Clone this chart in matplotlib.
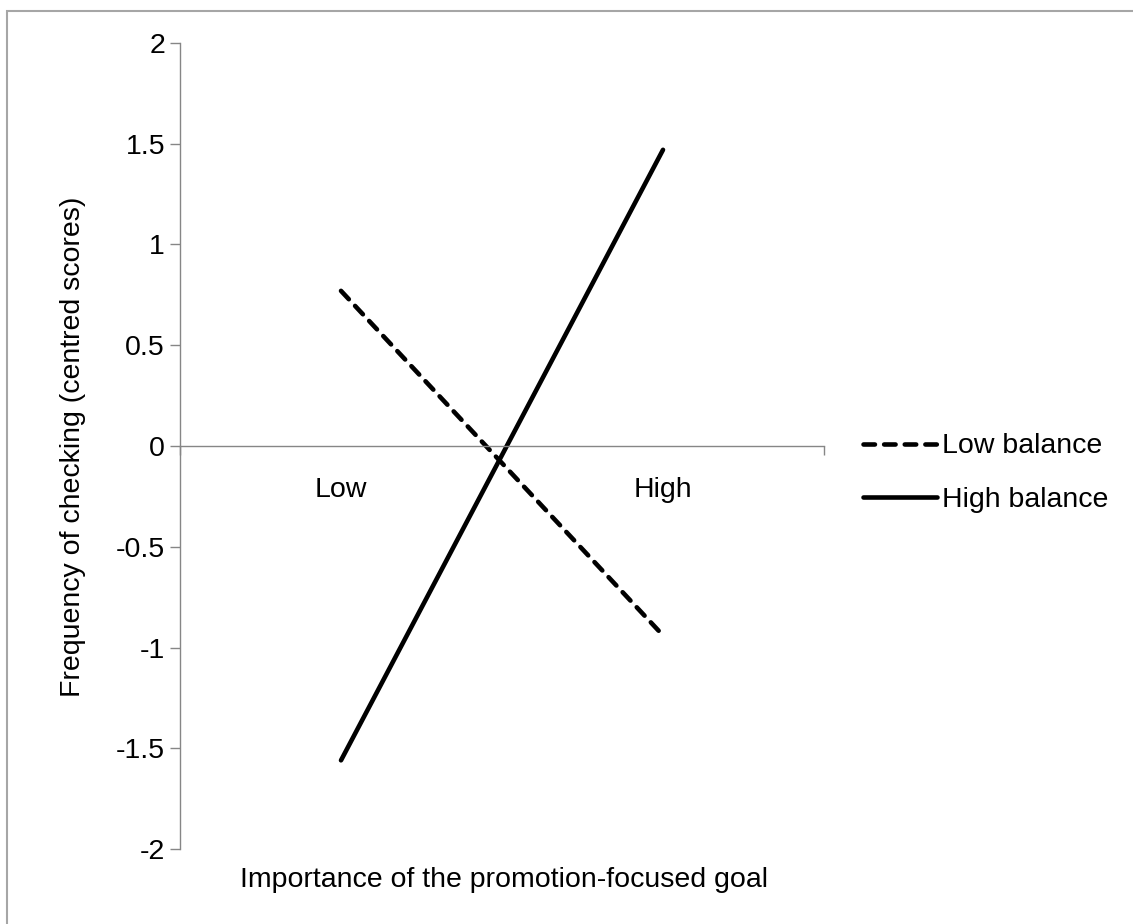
import numpy as np
import matplotlib
matplotlib.use('Agg')
import matplotlib.pyplot as plt
from matplotlib.patches import Rectangle

categories = ['Low', 'High']
low_balance = [0.77, -0.94]
high_balance = [-1.56, 1.47]
yticks = [-2, -1.5, -1, -0.5, 0, 0.5, 1, 1.5, 2]
ytick_labels = ['-2', '-1.5', '-1', '-0.5', '0', '0.5', '1', '1.5', '2']

plt.rcParams['font.family'] = ['Liberation Sans', 'DejaVu Sans']
fs = 20.5
grey = '#868686'

W, H = 1133, 924
fig = plt.figure(figsize=(W/100, H/100), dpi=100)
ax = fig.add_axes([180/W, 1-849/H, (824-180)/W, (849-43)/H])

x = np.arange(len(categories)) + 0.5
ax.plot(x, low_balance, color='k', lw=3.3, dashes=(2.5, 2.0),
        dash_capstyle='round', solid_capstyle='round', label='Low balance')
ax.plot(x, high_balance, color='k', lw=3.3, solid_capstyle='round',
        label='High balance')

ax.set_xlim(0, 2)
ax.set_ylim(-2, 2)

for s in ['top', 'right']:
    ax.spines[s].set_visible(False)
ax.spines['left'].set_color(grey)
ax.spines['bottom'].set_color(grey)
ax.spines['bottom'].set_position(('data', 0))
ax.spines['left'].set_linewidth(1)
ax.spines['bottom'].set_linewidth(1)

ax.set_yticks(yticks)
ax.set_yticklabels(ytick_labels, fontsize=fs)
ax.tick_params(axis='y', direction='out', length=7.2, width=1, color=grey, pad=3.6)

ax.set_xticks(x)
ax.set_xticklabels(categories, fontsize=fs)
ax.set_xticks([0, 2], minor=True)
ax.tick_params(axis='x', which='major', length=0, pad=22)
ax.tick_params(axis='x', which='minor', direction='out', length=6.5, width=1, color=grey)

fig.text(73/W, 1-447/H, 'Frequency of checking (centred scores)', rotation=90,
         ha='center', va='center', fontsize=fs)
fig.text(504/W, 1-880/H, 'Importance of the promotion-focused goal',
         ha='center', va='center', fontsize=fs)

ax.legend(loc='center left', bbox_to_anchor=(863/W, 1-473/H),
          bbox_transform=fig.transFigure, frameon=False, fontsize=fs,
          borderaxespad=0, borderpad=0, handlelength=2.6, handletextpad=0.18,
          labelspacing=0.95)

fig.patches.append(Rectangle((7/W, -0.1), 1.2, 1 - 11/H + 0.1, transform=fig.transFigure,
                             fill=False, edgecolor='#a6a6a6', lw=1.5))

fig.savefig('out.png', dpi=100)
